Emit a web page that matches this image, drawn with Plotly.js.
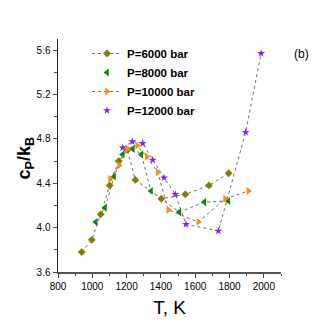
<!DOCTYPE html>
<html>
<head>
<meta charset="utf-8">
<script src="https://cdn.plot.ly/plotly-3.0.1.min.js"></script>
<style>html,body{margin:0;padding:0;background:#fff;}#chart{width:327px;height:327px;}</style>
</head>
<body>
<div id="chart"></div>
<script>
const seriesNames = ["P=6000 bar", "P=8000 bar", "P=10000 bar", "P=12000 bar"];

const t6000 = [938, 997, 1049, 1101, 1154, 1205, 1251, 1402, 1542, 1680, 1795];
const c6000 = [3.78, 3.89, 4.12, 4.38, 4.60, 4.70, 4.43, 4.26, 4.30, 4.38, 4.49];

const t8000 = [1020, 1074, 1127, 1177, 1236, 1286, 1342, 1507, 1653, 1793];
const c8000 = [4.05, 4.18, 4.46, 4.66, 4.71, 4.66, 4.33, 4.14, 4.23, 4.24];

const t10000 = [1103, 1156, 1204, 1262, 1317, 1381, 1443, 1618, 1774, 1910];
const c10000 = [4.44, 4.56, 4.71, 4.74, 4.64, 4.50, 4.16, 4.05, 4.26, 4.33];

const t12000 = [1177, 1233, 1294, 1352, 1418, 1484, 1546, 1735, 1894, 1984];
const c12000 = [4.72, 4.775, 4.76, 4.61, 4.45, 4.30, 4.03, 3.97, 4.86, 5.57];

const xTicks = [800, 1000, 1200, 1400, 1600, 1800, 2000];
const yTicks = [3.6, 4.0, 4.4, 4.8, 5.2, 5.6];

const lineStyle = {color: '#707070', width: 1, dash: 'dot'};
const narrow = '"Liberation Sans Narrow", "Arial Narrow", "Liberation Sans", Arial, sans-serif';

function lineOnly(x, y) {
  return {x: x, y: y, type: 'scatter', mode: 'lines', line: lineStyle,
          showlegend: false, hoverinfo: 'skip'};
}

const traces = [
  lineOnly(t8000, c8000),
  lineOnly(t12000, c12000),
  {x: t6000, y: c6000, name: seriesNames[0], type: 'scatter', mode: 'lines+markers',
   line: lineStyle, marker: {symbol: 'diamond', size: 6, color: '#808000'}},
  {x: t8000, y: c8000, name: seriesNames[1], type: 'scatter', mode: 'markers',
   marker: {symbol: 'triangle-left', size: 7, color: '#0a8a0a'}},
  {x: t10000, y: c10000, name: seriesNames[2], type: 'scatter', mode: 'lines+markers',
   line: lineStyle, marker: {symbol: 'triangle-right', size: 7, color: '#ff8c1a'}},
  {x: t12000, y: c12000, name: seriesNames[3], type: 'scatter', mode: 'markers',
   marker: {symbol: 'star', size: 6, color: '#8a1aff'}}
];

const layout = {
  width: 327, height: 327,
  margin: {l: 58, r: 46, t: 39, b: 55},
  paper_bgcolor: '#ffffff', plot_bgcolor: '#ffffff',
  showlegend: true,
  legend: {
    x: 0.13, y: 1.0, xanchor: 'left', yanchor: 'top',
    bgcolor: 'rgba(0,0,0,0)', borderwidth: 0,
    font: {family: narrow, size: 11.5, color: '#000', weight: 'bold'},
    itemwidth: 30, tracegroupgap: 0
  },
  xaxis: {
    range: [800, 2100],
    tickvals: xTicks, ticktext: xTicks.map(String),
    ticks: 'outside', ticklen: 4, tickwidth: 1, tickcolor: '#444',
    minor: {dtick: 100, tick0: 800, ticks: 'outside', ticklen: 2.5, tickcolor: '#444'},
    showline: true, linecolor: '#555', linewidth: 1.5,
    showgrid: false, zeroline: false,
    tickfont: {family: narrow, size: 10, color: '#000'},
    title: {text: 'T, K', font: {family: narrow, size: 19, color: '#000'}, standoff: 10}
  },
  yaxis: {
    range: [3.6, 5.7],
    tickvals: yTicks, ticktext: yTicks.map(v => v.toFixed(1)),
    ticks: 'outside', ticklen: 4, tickwidth: 1, tickcolor: '#444',
    minor: {dtick: 0.2, tick0: 3.6, ticks: 'outside', ticklen: 2.5, tickcolor: '#444'},
    showline: true, linecolor: '#222', linewidth: 1.5,
    showgrid: false, zeroline: false,
    tickfont: {family: narrow, size: 10, color: '#000'}
  },
  annotations: [
    {text: '<b>c<sub>P</sub>/k<sub>B</sub></b>', xref: 'paper', yref: 'paper', x: -0.145, y: 0.49,
     xanchor: 'center', yanchor: 'middle', textangle: -90, showarrow: false,
     font: {family: 'Liberation Sans, Arial, sans-serif', size: 18, color: '#000'}},
    {text: '(b)', xref: 'paper', yref: 'paper', x: 1.09, y: 0.935, xanchor: 'center', yanchor: 'middle',
     showarrow: false, font: {family: 'Liberation Sans, Arial, sans-serif', size: 12, color: '#000'}}
  ]
};

Plotly.newPlot('chart', traces, layout, {displayModeBar: false, staticPlot: true});
</script>
</body>
</html>
